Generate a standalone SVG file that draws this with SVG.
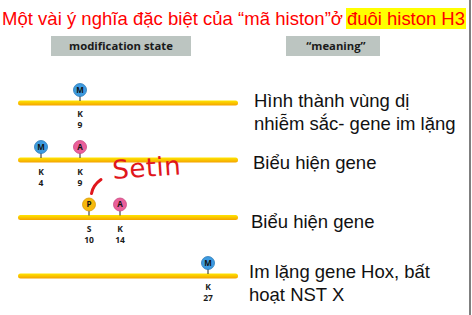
<svg xmlns="http://www.w3.org/2000/svg" width="472" height="315" viewBox="0 0 472 315">
  <style>
    .title { font-family: "Liberation Sans", Arial, sans-serif; font-size: 18.5px; fill: #ff0000; }
    .hdr { font-family: "Open Sans", "Liberation Sans", sans-serif; font-size: 11.3px; font-weight: bold; fill: #1a1a1a; text-anchor: middle; }
    .hdrbox { fill: #bcc5c1; }
    .mean { font-family: "Liberation Sans", Arial, sans-serif; font-size: 18.5px; fill: #111; }
    .res { font-family: "Open Sans", "Liberation Sans", sans-serif; font-size: 8.5px; font-weight: bold; fill: #1a1a1a; text-anchor: middle; }
    .mark { font-family: "Open Sans", "Liberation Sans", sans-serif; font-size: 8px; font-weight: bold; fill: #111; text-anchor: middle; }
    .tail { fill: url(#tailGrad); }
    .stem { stroke: #222; stroke-width: 1; }
    .m { fill: #3d9be0; stroke: #2a78b8; stroke-width: 0.8; }
    .a { fill: #ea5f9a; stroke: #c94680; stroke-width: 0.8; }
    .p { fill: #f6b80c; stroke: #d99a00; stroke-width: 0.8; }
    .note { font-family: "DejaVu Sans", sans-serif; font-size: 26px; fill: #e0161c; letter-spacing: 0.5px; }
  </style>
  <defs>
    <linearGradient id="tailGrad" x1="0" y1="0" x2="0" y2="1">
      <stop offset="0" stop-color="#ffe600"/>
      <stop offset="1" stop-color="#f4a200"/>
    </linearGradient>
  </defs>

  <rect width="472" height="315" fill="#ffffff"/>
  <line x1="470" y1="0" x2="470" y2="315" stroke="#555" stroke-width="1.5"/>

  <!-- heading -->
  <rect x="346" y="8" width="120" height="21" fill="#ffff00"/>
  <text class="title" x="2" y="24.5" textLength="341" lengthAdjust="spacing">Một vài ý nghĩa đặc biệt của “mã histon”ở</text>
  <text class="title" x="347" y="24.5" textLength="118" lengthAdjust="spacing">đuôi histon H3</text>

  <!-- column headers -->
  <g id="hdr-state">
    <rect class="hdrbox" x="51" y="36" width="140" height="20"/>
    <text class="hdr" x="121" y="50">modification state</text>
  </g>
  <g id="hdr-meaning">
    <rect class="hdrbox" x="286" y="36" width="94" height="20"/>
    <text class="hdr" x="336" y="50">“meaning”</text>
  </g>

  <!-- histone tails -->
  <g id="connectors">
    <rect class="tail" x="18" y="100.5" width="220" height="5" rx="2.5"/>
    <rect class="tail" x="18" y="157.5" width="220" height="5" rx="2.5"/>
    <rect class="tail" x="18" y="215" width="220" height="5" rx="2.5"/>
    <rect class="tail" x="18" y="273.5" width="220" height="5" rx="2.5"/>
  </g>

  <!-- row 1: K9 methyl -->
  <g id="row1">
    <line class="stem" x1="80" y1="96" x2="80" y2="101"/>
    <circle class="m" cx="80" cy="90" r="6.5"/>
    <text class="mark" x="80" y="92.8">M</text>
    <text class="res" x="80" y="117">K</text>
    <text class="res" x="80" y="128">9</text>
    <text class="mean" x="254" y="107">Hình thành vùng dị</text>
    <text class="mean" x="254" y="130">nhiễm sắc- gene im lặng</text>
  </g>

  <!-- row 2: K4 methyl, K9 acetyl -->
  <g id="row2">
    <line class="stem" x1="41" y1="153" x2="41" y2="158"/>
    <circle class="m" cx="41" cy="147" r="6.5"/>
    <text class="mark" x="41" y="149.8">M</text>
    <line class="stem" x1="80" y1="153" x2="80" y2="158"/>
    <circle class="a" cx="80" cy="147" r="6.5"/>
    <text class="mark" x="80" y="149.8">A</text>
    <text class="res" x="41" y="175">K</text>
    <text class="res" x="41" y="186">4</text>
    <text class="res" x="80" y="175">K</text>
    <text class="res" x="80" y="186">9</text>
    <text class="mean" x="253" y="169">Biểu hiện gene</text>
  </g>

  <!-- handwritten note -->
  <g id="note">
    <path d="M91.5,193.5 C92.5,188 96,183 101,179.5" fill="none" stroke="#e0161c" stroke-width="3" stroke-linecap="round"/>
    <text class="note" x="113" y="179" transform="rotate(-4 113 179)">Setin</text>
  </g>

  <!-- row 3: S10 phospho, K14 acetyl -->
  <g id="row3">
    <line class="stem" x1="89" y1="210.5" x2="89" y2="215.5"/>
    <circle class="p" cx="89" cy="204.5" r="6.5"/>
    <text class="mark" x="89" y="207.3">P</text>
    <line class="stem" x1="120" y1="210.5" x2="120" y2="215.5"/>
    <circle class="a" cx="120" cy="204.5" r="6.5"/>
    <text class="mark" x="120" y="207.3">A</text>
    <text class="res" x="89" y="232">S</text>
    <text class="res" x="89" y="243">10</text>
    <text class="res" x="120" y="232">K</text>
    <text class="res" x="120" y="243">14</text>
    <text class="mean" x="251" y="228">Biểu hiện gene</text>
  </g>

  <!-- row 4: K27 methyl -->
  <g id="row4">
    <line class="stem" x1="208" y1="269" x2="208" y2="274"/>
    <circle class="m" cx="208" cy="263" r="6.5"/>
    <text class="mark" x="208" y="265.8">M</text>
    <text class="res" x="208" y="290">K</text>
    <text class="res" x="208" y="301">27</text>
    <text class="mean" x="249" y="278">Im lặng gene Hox, bất</text>
    <text class="mean" x="249" y="301">hoạt NST X</text>
  </g>
</svg>
